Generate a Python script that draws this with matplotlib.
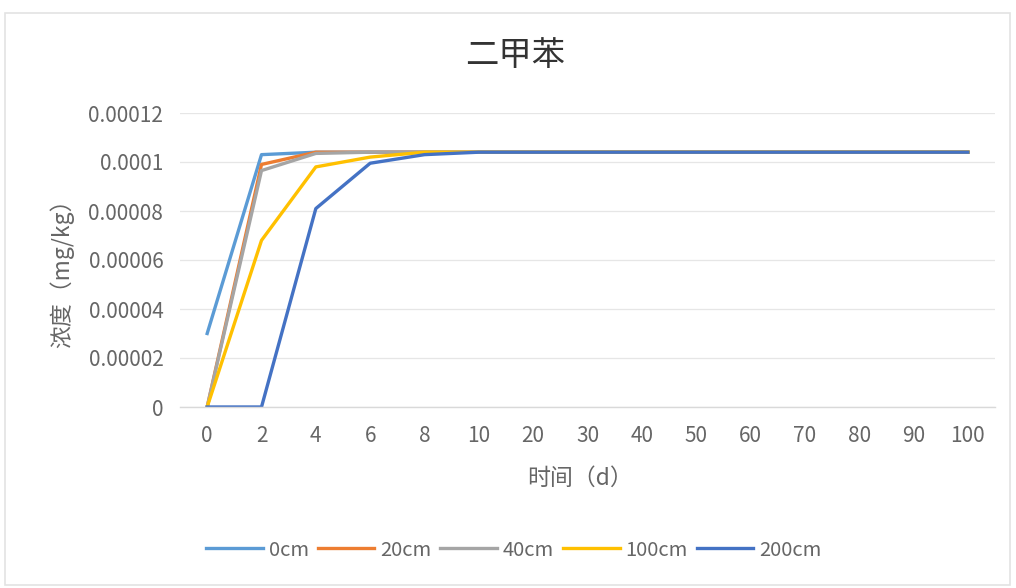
import matplotlib
matplotlib.use("Agg")
import matplotlib.pyplot as plt
from matplotlib.patches import Rectangle

plt.rcParams['font.family'] = ['Noto Sans CJK SC', 'DejaVu Sans']

# Sampling days (categorical axis)
days = ["0", "2", "4", "6", "8", "10", "20", "30", "40", "50", "60", "70", "80", "90", "100"]

# Xylene concentration (mg/kg) at each depth
c_0cm   = [3.0e-5, 1.03e-4, 1.04e-4, 1.04e-4, 1.04e-4, 1.04e-4, 1.04e-4, 1.04e-4, 1.04e-4, 1.04e-4, 1.04e-4, 1.04e-4, 1.04e-4, 1.04e-4, 1.04e-4]
c_20cm  = [0.0, 9.9e-5, 1.04e-4, 1.04e-4, 1.04e-4, 1.04e-4, 1.04e-4, 1.04e-4, 1.04e-4, 1.04e-4, 1.04e-4, 1.04e-4, 1.04e-4, 1.04e-4, 1.04e-4]
c_40cm  = [0.0, 9.65e-5, 1.035e-4, 1.04e-4, 1.04e-4, 1.04e-4, 1.04e-4, 1.04e-4, 1.04e-4, 1.04e-4, 1.04e-4, 1.04e-4, 1.04e-4, 1.04e-4, 1.04e-4]
c_100cm = [0.0, 6.8e-5, 9.8e-5, 1.02e-4, 1.04e-4, 1.04e-4, 1.04e-4, 1.04e-4, 1.04e-4, 1.04e-4, 1.04e-4, 1.04e-4, 1.04e-4, 1.04e-4, 1.04e-4]
c_200cm = [0.0, 0.0, 8.1e-5, 9.95e-5, 1.03e-4, 1.04e-4, 1.04e-4, 1.04e-4, 1.04e-4, 1.04e-4, 1.04e-4, 1.04e-4, 1.04e-4, 1.04e-4, 1.04e-4]

series_names = ["0cm", "20cm", "40cm", "100cm", "200cm"]
series_values = [c_0cm, c_20cm, c_40cm, c_100cm, c_200cm]
series_colors = ["#5B9BD5", "#ED7D31", "#A5A5A5", "#FFC000", "#4472C4"]

y_ticks = [0, 0.00002, 0.00004, 0.00006, 0.00008, 0.0001, 0.00012]
y_tick_labels = ["0", "0.00002", "0.00004", "0.00006", "0.00008", "0.0001", "0.00012"]

W, H = 1016, 588
fig = plt.figure(figsize=(W / 100, H / 100), dpi=100)
fig.patch.set_facecolor("white")

# light chart-area frame
fig.patches.append(Rectangle((5 / W, 3 / H), 1005 / W, (585 - 13) / H,
                             transform=fig.transFigure, fill=False,
                             edgecolor="#E3E3E3", linewidth=1.2))

ax = fig.add_axes([180 / W, 1 - 407 / H, 815 / W, 294 / H])
x = list(range(len(days)))
for name, vals, col in zip(series_names, series_values, series_colors):
    ax.plot(x, vals, color=col, linewidth=2.4, label=name, solid_joinstyle="round")

ax.set_xlim(-0.5, len(days) - 0.5)
ax.set_ylim(0, 0.00012)
ax.set_yticks(y_ticks)
ax.set_yticklabels(y_tick_labels)
ax.set_xticks(x)
ax.set_xticklabels(days)
ax.tick_params(axis="both", length=0, labelsize=15, labelcolor="#666666")
ax.tick_params(axis="y", pad=12)
ax.tick_params(axis="x", pad=13)
for lbl in ax.get_xticklabels() + ax.get_yticklabels():
    lbl.set_fontweight("light")
ax.grid(axis="y", color="#E6E6E6", linewidth=0.9)
ax.set_axisbelow(True)
for s in ["top", "right", "left"]:
    ax.spines[s].set_visible(False)
ax.spines["bottom"].set_color("#D9D9D9")
ax.spines["bottom"].set_linewidth(1.0)

fig.text(515 / W, 1 - 56 / H, "二甲苯", ha="center", va="center",
         fontsize=24, color="#333333", fontweight="light")
fig.text(62 / W, 1 - 268 / H, "浓度（mg/kg）", ha="center", va="center",
         rotation=90, fontsize=16.5, color="#666666", fontweight="light")
fig.text(580 / W, 1 - 478 / H, "时间（d）", ha="center", va="center",
         fontsize=16.5, color="#666666", fontweight="light")

leg = fig.legend(loc="center", bbox_to_anchor=(514 / W, 1 - 550 / H), ncol=5,
                 frameon=False, fontsize=14.5, handlelength=2.8,
                 handletextpad=0.3, columnspacing=0.45)
for t in leg.get_texts():
    t.set_color("#666666")
    t.set_fontweight("light")

fig.savefig("out.png", dpi=100, facecolor="white")
